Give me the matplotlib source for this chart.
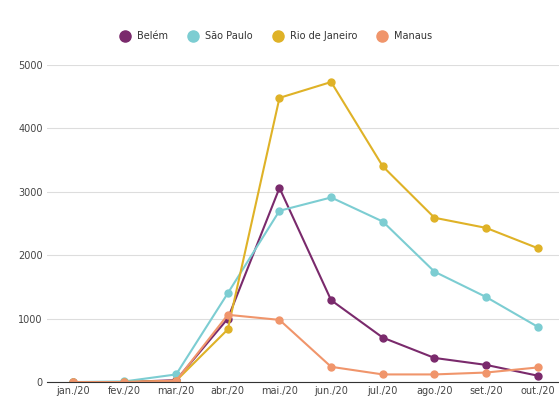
import matplotlib.pyplot as plt
import matplotlib.lines as mlines

meses = ['jan./20', 'fev./20', 'mar./20', 'abr./20', 'mai./20', 'jun./20',
         'jul./20', 'ago./20', 'set./20', 'out./20']
belem = [0, 0, 30, 1000, 3060, 1290, 700, 380, 270, 100]
sao_paulo = [0, 10, 120, 1400, 2700, 2910, 2530, 1740, 1340, 870]
rio = [0, 0, 20, 830, 4480, 4730, 3400, 2590, 2430, 2110]
manaus = [0, 0, 20, 1060, 980, 240, 120, 120, 150, 230]

series = [
    ('Belém', belem, '#7a2a6c'),
    ('São Paulo', sao_paulo, '#7ccdd2'),
    ('Rio de Janeiro', rio, '#dfb227'),
    ('Manaus', manaus, '#f0956b'),
]

fig = plt.figure(figsize=(5.59, 4.03), dpi=100)
ax = fig.add_axes([0.084, 0.052, 0.916, 0.787])

x = list(range(len(meses)))
handles = []
for nome, vals, cor in series:
    ax.plot(x, vals, color=cor, lw=1.5, marker='o', ms=5, label=nome)
    handles.append(mlines.Line2D([], [], color=cor, marker='o', ls='none', ms=8, label=nome))

ax.set_xlim(-0.5, 9.41)
ax.set_ylim(0, 5000)
ax.set_yticks([0, 1000, 2000, 3000, 4000, 5000])
ax.set_xticks(x)
ax.set_xticklabels(meses)
ax.tick_params(axis='both', labelsize=7, colors='#444444', length=0, pad=3)
ax.grid(axis='y', color='#dddddd', lw=0.8)
ax.set_axisbelow(True)
for s in ['top', 'right', 'left']:
    ax.spines[s].set_visible(False)
ax.spines['bottom'].set_color('#333333')

fig.legend(handles=handles, loc='center', bbox_to_anchor=(0.49, 0.91), ncol=4,
           frameon=False, fontsize=7, handletextpad=0.2, columnspacing=1.6,
           labelcolor='#333333')

fig.savefig('out.png', dpi=100, facecolor='white')
